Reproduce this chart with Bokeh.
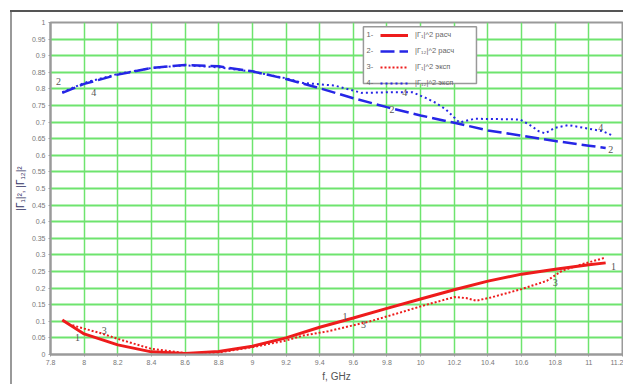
from bokeh.plotting import figure
from bokeh.models import Legend, LegendItem, Label, BoxAnnotation, FixedTicker, Range1d
from bokeh.core.properties import value
from bokeh.embed import file_html
from bokeh.resources import INLINE

# ---- data ----
f_calc = [7.87, 8.0, 8.2, 8.4, 8.6, 8.8, 9.0, 9.2, 9.4, 9.6, 9.8, 10.0, 10.2, 10.4, 10.6, 10.8, 11.0, 11.1]
g1_calc = [0.104, 0.062, 0.029, 0.008, 0.003, 0.009, 0.025, 0.05, 0.082, 0.11, 0.139, 0.167, 0.195, 0.221, 0.242, 0.257, 0.27, 0.276]
g12_calc = [0.788, 0.815, 0.843, 0.863, 0.872, 0.868, 0.853, 0.83, 0.802, 0.772, 0.745, 0.72, 0.698, 0.675, 0.659, 0.643, 0.629, 0.622]

f_exp1 = [7.93, 8.0, 8.1, 8.2, 8.4, 8.6, 8.8, 9.0, 9.2, 9.3, 9.45, 9.55, 9.7, 9.89, 10.0, 10.2, 10.27, 10.33, 10.42, 10.6, 10.75, 10.84, 10.96, 11.1]
g1_exp = [0.088, 0.078, 0.064, 0.047, 0.017, 0.004, 0.006, 0.022, 0.042, 0.057, 0.07, 0.082, 0.1, 0.128, 0.145, 0.173, 0.17, 0.162, 0.172, 0.197, 0.222, 0.252, 0.272, 0.292]

f_exp12 = [7.87, 8.0, 8.2, 8.4, 8.6, 8.8, 9.0, 9.2, 9.3, 9.49, 9.65, 9.83, 9.95, 10.03, 10.09, 10.15, 10.2, 10.23, 10.32, 10.59, 10.66, 10.7, 10.74, 10.8, 10.88, 11.0, 11.08, 11.14]
g12_exp = [0.79, 0.818, 0.845, 0.863, 0.871, 0.865, 0.852, 0.832, 0.818, 0.81, 0.788, 0.79, 0.79, 0.773, 0.758, 0.738, 0.714, 0.699, 0.71, 0.708, 0.688, 0.673, 0.666, 0.683, 0.691, 0.68, 0.673, 0.66]

x_ticks = [7.8, 8.0, 8.2, 8.4, 8.6, 8.8, 9.0, 9.2, 9.4, 9.6, 9.8, 10.0, 10.2, 10.4, 10.6, 10.8, 11.0, 11.2]
x_tick_labels = ["7.8", "8", "8.2", "8.4", "8.6", "8.8", "9", "9.2", "9.4", "9.6", "9.8", "10", "10.2", "10.4", "10.6", "10.8", "11", "11.2"]
y_ticks = [0.0, 0.05, 0.1, 0.15, 0.2, 0.25, 0.3, 0.35, 0.4, 0.45, 0.5, 0.55, 0.6, 0.65, 0.7, 0.75, 0.8, 0.85, 0.9, 0.95, 1.0]
y_tick_labels = ["0", "0.05", "0.1", "0.15", "0.2", "0.25", "0.3", "0.35", "0.4", "0.45", "0.5", "0.55", "0.6", "0.65", "0.7", "0.75", "0.8", "0.85", "0.9", "0.95", "1"]

series_names = ["|Γ₁|^2 расч", "|Γ₁₂|^2 расч", "|Γ₁|^2 эксп", "|Γ₁₂|^2 эксп"]
series_numbers = ["1-", "2-", "3-", "4-"]

curve_label_text = ["2", "4", "1", "3", "2", "4", "1", "3", "4", "2", "1", "3"]
curve_label_f = [7.848, 8.057, 7.96, 8.12, 9.83, 9.906, 9.55, 9.66, 11.07, 11.13, 11.147, 10.80]
curve_label_v = [0.822, 0.789, 0.05, 0.071, 0.738, 0.789, 0.113, 0.089, 0.684, 0.618, 0.266, 0.218]

# legend frame, in data units of the chart
legend_box = dict(left=9.66, right=10.332, top=0.987, bottom=0.816)

RED = "#ee1c1c"
BLUE = "#2626e6"
GRID = "#6ee46e"
AXIS = "#9a9a9a"
FONT = "Liberation Sans"

p = figure(width=623, height=384, output_backend="svg", toolbar_location=None,
           x_range=Range1d(7.8, 11.2), y_range=Range1d(0, 1),
           min_border_left=50, min_border_right=1, min_border_top=22, min_border_bottom=29)
p.background_fill_color = "white"
p.border_fill_alpha = 0
p.styles = {"background": "linear-gradient(#555555,#555555) 10px 10px / 100% 2px no-repeat, "
                          "linear-gradient(#999999,#999999) 10px 10px / 2px 100% no-repeat, #ffffff"}
p.outline_line_color = AXIS
p.outline_line_width = 2

xt = FixedTicker(ticks=x_ticks)
yt = FixedTicker(ticks=y_ticks)
p.xaxis.ticker = xt
p.yaxis.ticker = yt
p.xgrid.ticker = xt
p.ygrid.ticker = yt
p.xaxis.major_label_overrides = {t: l for t, l in zip(x_ticks, x_tick_labels)}
p.yaxis.major_label_overrides = {t: l for t, l in zip(y_ticks, y_tick_labels)}

for g in (p.xgrid, p.ygrid):
    g.grid_line_color = GRID
p.xgrid.grid_line_width = 1.5
p.ygrid.grid_line_width = 2

for ax in (p.xaxis, p.yaxis):
    ax.axis_line_color = AXIS
    ax.axis_line_width = 2
    ax.major_tick_line_color = AXIS
    ax.major_tick_out = 2
    ax.major_tick_in = 0
    ax.minor_tick_line_color = None
    ax.major_label_text_font = FONT
    ax.major_label_text_font_size = "7px"
    ax.major_label_text_color = "#777777"
    ax.major_label_standoff = 3
    ax.axis_label_text_font = FONT
    ax.axis_label_text_font_style = "normal"

p.xaxis.axis_label = "f, GHz"
p.xaxis.axis_label_text_font_size = "10px"
p.xaxis.axis_label_text_color = "#555555"
p.xaxis.axis_label_standoff = 3
p.yaxis.axis_label = "|Γ₁|², |Γ₁₂|²"
p.yaxis.axis_label_text_font_size = "10px"
p.yaxis.axis_label_text_color = "#333366"
p.yaxis.axis_label_standoff = 3

r1 = p.line(f_calc, g1_calc, line_color=RED, line_width=3)
r2 = p.line(f_calc, g12_calc, line_color=BLUE, line_width=2.5, line_dash="14 5")
r3 = p.line(f_exp1, g1_exp, line_color=RED, line_width=2, line_dash="2 2")
r4 = p.line(f_exp12, g12_exp, line_color=BLUE, line_width=2, line_dash="2 3")

p.text(x=curve_label_f, y=curve_label_v, text=curve_label_text,
       text_font=value("Liberation Serif"), text_font_size="10px", text_color="#555555",
       text_align="center", text_baseline="middle")

box = BoxAnnotation(**legend_box, fill_color="white", fill_alpha=1.0,
                    line_color="#999999", line_width=1.5, line_alpha=1.0)
p.add_layout(box)

legend = Legend(items=[LegendItem(label=n, renderers=[r]) for n, r in zip(series_names, [r1, r2, r3, r4])],
                location=(330, 265.5), padding=0, margin=0, spacing=4,
                glyph_width=28, glyph_height=12, label_height=12, label_standoff=7,
                label_text_font=FONT, label_text_font_size="7.5px", label_text_color="#666666",
                border_line_alpha=0, background_fill_alpha=0)
p.add_layout(legend)

for i, num in enumerate(series_numbers):
    p.add_layout(Label(x=316, y=320 - 16 * i, x_units="screen", y_units="screen", text=num,
                       text_font=FONT, text_font_size="7.5px", text_color="#666666",
                       text_baseline="middle"))

open("out.html", "w").write(file_html(p, INLINE))
